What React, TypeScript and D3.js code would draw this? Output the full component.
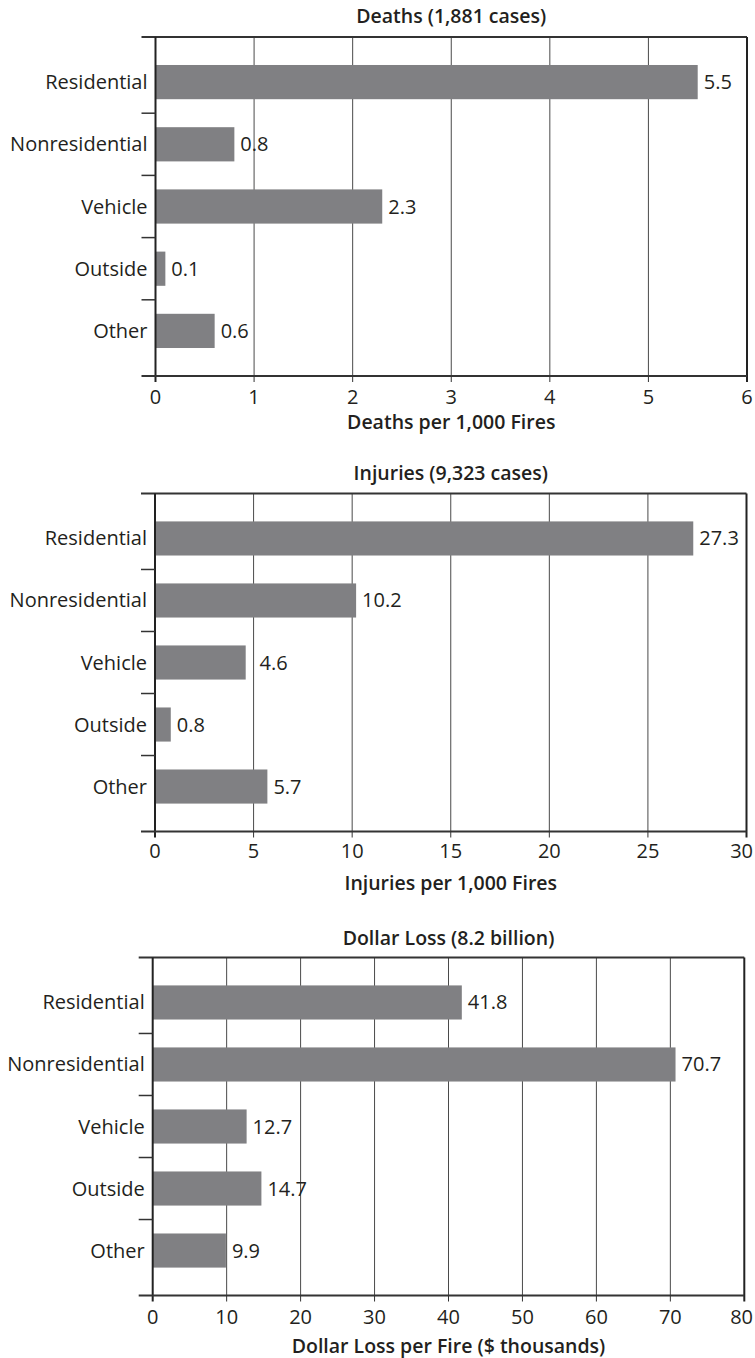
import React from "react";
import * as d3 from "d3";

const categories = ["Residential", "Nonresidential", "Vehicle", "Outside", "Other"];
const deathsValues = [5.5, 0.8, 2.3, 0.1, 0.6];
const injuriesValues = [27.3, 10.2, 4.6, 0.8, 5.7];
const dollarValues = [41.8, 70.7, 12.7, 14.7, 9.9];
const deathsTicks = [0, 1, 2, 3, 4, 5, 6];
const injuriesTicks = [0, 5, 10, 15, 20, 25, 30];
const dollarTicks = [0, 10, 20, 30, 40, 50, 60, 70, 80];
const titles = ["Deaths (1,881 cases)", "Injuries (9,323 cases)", "Dollar Loss (8.2 billion)"];
const axisTitles = ["Deaths per 1,000 Fires", "Injuries per 1,000 Fires", "Dollar Loss per Fire ($ thousands)"];

const FONT = "'Open Sans', 'Liberation Sans', Arial, sans-serif";
const BAR = "#808083";
const INK = "#231f20";
const WIDTH = 755;

type Panel = {
  values: number[];
  ticks: number[];
  title: string;
  axisTitle: string;
  top: number;
  bottom: number;
  left: number;
  right: number;
  titleY: number;
  tickY: number;
  axisTitleY: number;
};

const panels: Panel[] = [
  { values: deathsValues, ticks: deathsTicks, title: titles[0], axisTitle: axisTitles[0], top: 37, bottom: 376, left: 155.5, right: 747, titleY: 23, tickY: 404, axisTitleY: 429 },
  { values: injuriesValues, ticks: injuriesTicks, title: titles[1], axisTitle: axisTitles[1], top: 493.5, bottom: 831.5, left: 155, right: 746.5, titleY: 480, tickY: 858, axisTitleY: 890 },
  { values: dollarValues, ticks: dollarTicks, title: titles[2], axisTitle: axisTitles[2], top: 957.5, bottom: 1295.5, left: 152.7, right: 744.3, titleY: 945, tickY: 1324, axisTitleY: 1353 },
];

function BarPanel({ p }: { p: Panel }) {
  const x = d3.scaleLinear().domain([p.ticks[0], p.ticks[p.ticks.length - 1]]).range([p.left, p.right]);
  const y = d3.scaleBand<string>().domain(categories).range([p.top, p.bottom]).padding(0.45);
  const step = y.step();
  const boundaries = categories.slice(1).map((c) => (y(c) as number) - (step - y.bandwidth()) / 2);
  const labelPos = (v: number) => {
    const end = x(v);
    let lx = end + 6;
    for (const t of p.ticks) {
      const gx = x(t);
      if (gx > end + 1 && gx < lx + 3) lx = gx + 6;
    }
    return lx;
  };
  const tickLabelX = (t: number) => {
    const half = (String(t).length * 11.4) / 2;
    const cx = x(t);
    return cx + half > WIDTH - 2 ? WIDTH - 2 - half : cx;
  };
  return (
    <g>
      <text x={(p.left + p.right) / 2} y={p.titleY} textAnchor="middle" fontFamily={FONT} fontWeight={600} fontSize={19.5} fill={INK}>
        {p.title}
      </text>
      {p.ticks.slice(1, -1).map((t) => (
        <line key={"g" + t} x1={x(t)} x2={x(t)} y1={p.top} y2={p.bottom} stroke="#4a4a4a" strokeWidth={1} />
      ))}
      {categories.map((c, i) => (
        <rect key={"b" + c} x={x(0)} y={y(c)} width={x(p.values[i]) - x(0)} height={y.bandwidth()} fill={BAR} />
      ))}
      <line x1={p.left - 14} x2={p.right} y1={p.top} y2={p.top} stroke="#333" strokeWidth={2} />
      <line x1={p.right} x2={p.right} y1={p.top} y2={p.bottom + 6} stroke="#222" strokeWidth={2} />
      <line x1={p.left} x2={p.left} y1={p.top} y2={p.bottom + 6} stroke="#222" strokeWidth={2} />
      <line x1={p.left - 14} x2={p.right} y1={p.bottom} y2={p.bottom} stroke="#333" strokeWidth={2} />
      {boundaries.map((b, i) => (
        <line key={"ct" + i} x1={p.left - 14} x2={p.left} y1={b} y2={b} stroke="#333" strokeWidth={1.5} />
      ))}
      {p.ticks.slice(1, -1).map((t) => (
        <line key={"t" + t} x1={x(t)} x2={x(t)} y1={p.bottom} y2={p.bottom + 6} stroke="#333" strokeWidth={1} />
      ))}
      {p.ticks.map((t) => (
        <text key={"tl" + t} x={tickLabelX(t)} y={p.tickY} textAnchor="middle" fontFamily={FONT} fontSize={20} fill={INK}>
          {t}
        </text>
      ))}
      {categories.map((c) => (
        <text key={"cl" + c} x={p.left - 8} y={(y(c) as number) + y.bandwidth() / 2 + 7} textAnchor="end" fontFamily={FONT} fontSize={20} fill={INK}>
          {c}
        </text>
      ))}
      {categories.map((c, i) => (
        <text key={"vl" + c} x={labelPos(p.values[i])} y={(y(c) as number) + y.bandwidth() / 2 + 7} textAnchor="start" fontFamily={FONT} fontSize={20} fill={INK}>
          {p.values[i].toFixed(1)}
        </text>
      ))}
      <text x={(p.left + p.right) / 2} y={p.axisTitleY} textAnchor="middle" fontFamily={FONT} fontWeight={600} fontSize={19.5} fill={INK}>
        {p.axisTitle}
      </text>
    </g>
  );
}

export default function App() {
  return (
    <svg width={WIDTH} height={1358} style={{ position: "absolute", left: 0, top: 0, background: "#fff" }}>
      <rect width={WIDTH} height={1358} fill="#fff" />
      {panels.map((p, i) => (
        <BarPanel key={i} p={p} />
      ))}
    </svg>
  );
}
